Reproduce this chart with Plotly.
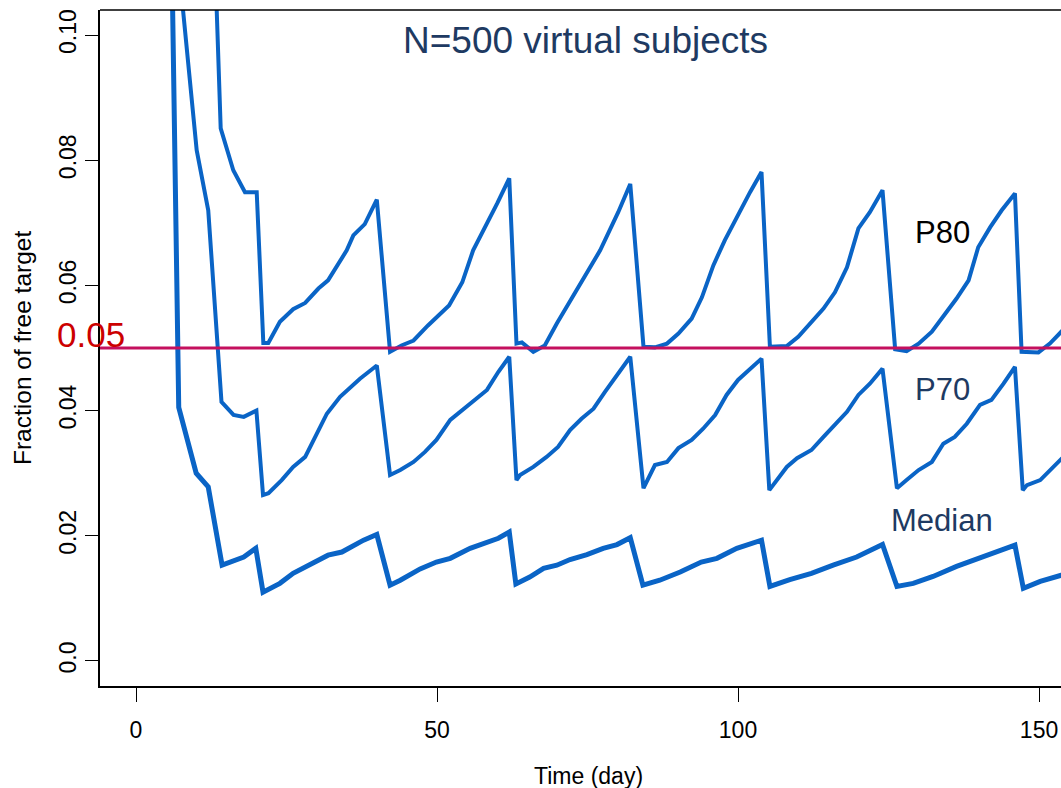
import plotly.graph_objects as go

# ---- data ----
p80_t = [0, 12.0, 14.07, 16.16, 18.1, 20.05, 21.15, 21.98, 23.9, 26.1, 28.1, 30.3, 31.9, 35.0, 36.1, 38.0, 40.0,
         42.2, 44.1, 46.1, 48.5, 52.0, 54.2, 56.0, 60.0, 62.0,
         63.2, 64.1, 66.0, 67.9, 69.9, 73.8, 77.1, 80.1, 82.1,
         84.3, 86.2, 88.2, 90.1, 92.3, 94.0, 95.9, 97.8, 102.0, 103.9,
         105.3, 108.1, 110.0, 114.2, 116.1, 118.1, 120.0, 121.9, 124.0,
         126.1, 128.0, 130.0, 132.2, 134.1, 136.3, 138.3, 139.9, 141.9, 143.8, 146.0,
         147.1, 149.9, 151.8, 153.7, 156.0]
p80_v = [1.0, 0.144, 0.0851, 0.0784, 0.0749, 0.0749, 0.0508, 0.0508, 0.0542, 0.0562, 0.0572, 0.0595, 0.0608, 0.0656, 0.0680, 0.0698, 0.0737,
         0.0494, 0.0504, 0.0512, 0.0536, 0.0568, 0.0605, 0.0656, 0.0731, 0.0771,
         0.0507, 0.0509, 0.0494, 0.0504, 0.0539, 0.0603, 0.0656, 0.0717, 0.0762,
         0.0502, 0.0501, 0.0507, 0.0523, 0.0547, 0.0581, 0.0632, 0.0672, 0.0749, 0.0781,
         0.0502, 0.0503, 0.0518, 0.0563, 0.0589, 0.0629, 0.0691, 0.0717, 0.0752,
         0.0498, 0.0495, 0.0507, 0.0526, 0.0550, 0.0579, 0.0608, 0.0661, 0.0693, 0.0720, 0.0747,
         0.0494, 0.0493, 0.0507, 0.0526, 0.0552]

p70_t = [0, 7.0, 10.08, 12.0, 14.2, 16.2, 17.9, 20.0, 21.1, 22.0, 24.2, 26.1, 28.1, 29.9, 31.7, 33.9, 37.2, 40.0,
         42.2, 43.9, 46.1, 48.0, 49.9, 52.2, 53.8, 56.0, 58.3, 60.2, 62.0,
         63.2, 63.8, 66.0, 68.2, 70.1, 72.1, 74.0, 76.0, 77.9, 79.9, 82.1,
         84.3, 86.2, 88.2, 90.1, 92.3, 94.2, 96.2, 98.1, 100.0, 103.9,
         105.2, 108.1, 109.8, 112.2, 114.2, 116.1, 118.1, 120.0, 121.9, 124.0,
         126.4, 128.0, 130.0, 132.2, 134.1, 136.0, 138.0, 140.2, 142.1, 144.1, 146.0,
         147.3, 148.0, 150.2, 151.8, 153.7, 156.0]
p70_v = [1.0, 0.112, 0.0816, 0.0720, 0.0414, 0.0393, 0.0390, 0.0400, 0.0265, 0.0268, 0.0289, 0.0310, 0.0326, 0.0361, 0.0395, 0.0422, 0.0451, 0.0472,
         0.0297, 0.0305, 0.0318, 0.0334, 0.0353, 0.0385, 0.0398, 0.0414, 0.0433, 0.0462, 0.0486,
         0.0289, 0.0297, 0.0310, 0.0326, 0.0342, 0.0369, 0.0387, 0.0403, 0.0430, 0.0457, 0.0486,
         0.0276, 0.0313, 0.0318, 0.0340, 0.0353, 0.0371, 0.0393, 0.0425, 0.0449, 0.0483,
         0.0273, 0.0310, 0.0324, 0.0337, 0.0358, 0.0377, 0.0398, 0.0425, 0.0443, 0.0467,
         0.0276, 0.0289, 0.0305, 0.0318, 0.0347, 0.0358, 0.0379, 0.0409, 0.0417, 0.0443, 0.0470,
         0.0273, 0.0281, 0.0289, 0.0305, 0.0324, 0.0345]

median_t = [0, 6.0, 7.1, 10.0, 12.0, 14.3, 17.9, 19.9, 21.1, 23.9, 26.1, 28.4, 31.9, 34.2, 37.8, 40.0,
            42.2, 43.9, 47.2, 49.9, 52.2, 55.5, 57.7, 60.2, 62.0,
            63.1, 65.4, 67.7, 69.9, 72.1, 74.9, 77.6, 79.9, 82.1,
            84.2, 87.0, 90.4, 93.9, 96.5, 99.8, 103.9,
            105.3, 108.6, 112.2, 115.8, 119.7, 124.0,
            126.4, 129.1, 132.4, 136.3, 139.9, 143.5, 146.0,
            147.4, 150.2, 153.7, 156.0]
median_v = [1.0, 0.1095, 0.0405, 0.0300, 0.0278, 0.0153, 0.0166, 0.0180, 0.0110, 0.0124, 0.0140, 0.0152, 0.0169, 0.0174, 0.0193, 0.0202,
            0.0121, 0.0129, 0.0147, 0.0158, 0.0164, 0.0180, 0.0188, 0.0196, 0.0206,
            0.0123, 0.0134, 0.0148, 0.0153, 0.0162, 0.0170, 0.0180, 0.0186, 0.0197,
            0.0121, 0.0129, 0.0142, 0.0158, 0.0164, 0.0180, 0.0193,
            0.0119, 0.0130, 0.0140, 0.0153, 0.0166, 0.0186,
            0.0119, 0.0124, 0.0135, 0.0151, 0.0164, 0.0177, 0.0185,
            0.0116, 0.0127, 0.0137, 0.0144]

threshold = 0.05
x_ticks = [0, 50, 100, 150]
y_ticks = [0.0, 0.02, 0.04, 0.06, 0.08, 0.10]
y_tick_text = ["0.0", "0.02", "0.04", "0.06", "0.08", "0.10"]

FONT = "Liberation Sans, Arial, Helvetica, sans-serif"
BLUE = "#0A64C6"
NAVY = "#1E3A62"

fig = go.Figure()
fig.add_trace(go.Scatter(x=p80_t, y=p80_v, mode="lines", line=dict(color=BLUE, width=4), showlegend=False))
fig.add_trace(go.Scatter(x=p70_t, y=p70_v, mode="lines", line=dict(color=BLUE, width=4), showlegend=False))
fig.add_trace(go.Scatter(x=median_t, y=median_v, mode="lines", line=dict(color=BLUE, width=5), showlegend=False))
fig.add_trace(go.Scatter(x=[-10, 170], y=[threshold, threshold], mode="lines",
                         line=dict(color="#C4105E", width=3), showlegend=False))

# top border of the box (R-style box, right side is cropped off)
fig.add_shape(type="line", xref="paper", yref="paper", x0=0, x1=1.05, y0=1, y1=1,
              line=dict(color="black", width=1.5))

annotations = [
    dict(text="N=500 virtual subjects", x=74.6, y=0.0991, xref="x", yref="y", showarrow=False,
         xanchor="center", yanchor="middle", font=dict(family=FONT, size=37, color=NAVY)),
    dict(text="P80", x=133.9, y=0.0685, xref="x", yref="y", showarrow=False,
         xanchor="center", yanchor="middle", font=dict(family=FONT, size=31, color="black")),
    dict(text="P70", x=133.9, y=0.0433, xref="x", yref="y", showarrow=False,
         xanchor="center", yanchor="middle", font=dict(family=FONT, size=31, color=NAVY)),
    dict(text="Median", x=133.9, y=0.0225, xref="x", yref="y", showarrow=False,
         xanchor="center", yanchor="middle", font=dict(family=FONT, size=31, color=NAVY)),
    dict(text="0.05", x=(91 - 100) / 961, y=0.0521, xref="paper", yref="y", showarrow=False,
         xanchor="center", yanchor="middle", font=dict(family=FONT, size=35, color="#CC0000")),
    # axis titles
    dict(text="Time (day)", x=(588 - 100) / 961, y=(686 - 776) / 676, xref="paper", yref="paper",
         showarrow=False, xanchor="center", yanchor="middle", font=dict(family=FONT, size=23, color="black")),
    dict(text="Fraction of free target", x=(22 - 100) / 961, y=(686 - 348) / 676, xref="paper", yref="paper",
         showarrow=False, textangle=-90, xanchor="center", yanchor="middle",
         font=dict(family=FONT, size=24.5, color="black")),
]

fig.update_layout(
    width=1061, height=788,
    margin=dict(l=100, r=0, t=10, b=102),
    paper_bgcolor="white", plot_bgcolor="white",
    font=dict(family=FONT, size=23, color="black"),
    annotations=annotations,
    xaxis=dict(range=[-5.98, 153.65], tickvals=x_ticks, ticks="outside", ticklen=14, tickwidth=1,
               tickcolor="black", showline=True, linecolor="black", linewidth=1.5, showgrid=False,
               zeroline=False, tickfont=dict(size=23), ticklabelstandoff=9),
    yaxis=dict(range=[-0.004, 0.104], tickvals=y_ticks, ticktext=y_tick_text, tickangle=-90,
               ticks="outside", ticklen=13, tickwidth=1, tickcolor="black", showline=True,
               linecolor="black", linewidth=1.5, showgrid=False, zeroline=False, tickfont=dict(size=23)),
)

fig.write_html("out.html")
